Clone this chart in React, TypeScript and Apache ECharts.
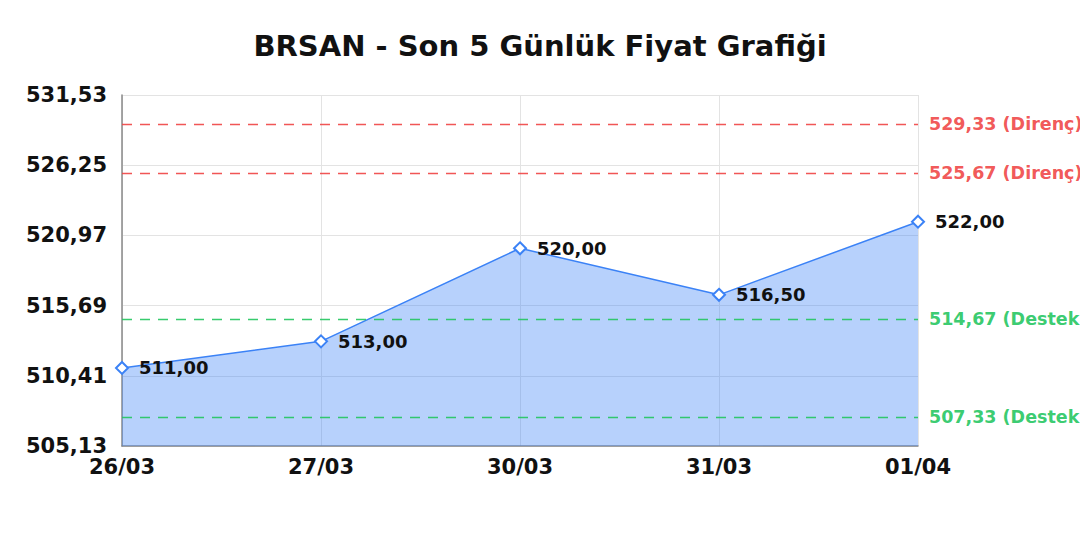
import { useEffect, useRef } from "react";
import * as echarts from "echarts";

// Son 5 günlük kapanış fiyatları
const DATES = ["26/03", "27/03", "30/03", "31/03", "01/04"];
const PRICES = [511.0, 513.0, 520.0, 516.5, 522.0];
const Y_TICKS = [505.13, 510.41, 515.69, 520.97, 526.25, 531.53];
const RESISTANCE = [529.33, 525.67];
const SUPPORT = [514.67, 507.33];

const BLUE = "#3b82f6";
const RED = "#ef4444";
const GREEN = "#22c55e";
const FONT = "DejaVu Sans";

const fmt = (v: number) => v.toFixed(2).replace(".", ",");

// One empty helper series per dashed support / resistance line
// (per-item markLine colours were not applied reliably).
function levelSeries(value: number, color: string, tag: string) {
  return {
    type: "line",
    data: [],
    silent: true,
    markLine: {
      silent: true,
      symbol: "none",
      lineStyle: { color, type: [10, 8], width: 1.3, opacity: 0.9 },
      label: {
        position: "end",
        distance: 11,
        color,
        fontFamily: FONT,
        fontWeight: "bold",
        fontSize: 17.5,
        formatter: `${fmt(value)} (${tag})`,
      },
      data: [{ yAxis: value }],
    },
  };
}

export default function App() {
  const boxRef = useRef<HTMLDivElement>(null);

  useEffect(() => {
    if (!boxRef.current) return;
    const chart = echarts.init(boxRef.current, undefined, { renderer: "svg" });
    chart.setOption({
      animation: false,
      backgroundColor: "#fff",
      textStyle: { fontFamily: FONT },
      title: {
        text: "BRSAN - Son 5 Günlük Fiyat Grafiği",
        left: "center",
        top: 26,
        textStyle: { fontFamily: FONT, fontWeight: "bold", fontSize: 29, color: "#111" },
      },
      grid: { left: 122, right: 162, top: 95, bottom: 94 },
      xAxis: {
        type: "category",
        data: DATES,
        boundaryGap: false,
        axisLine: { lineStyle: { color: "#888", width: 1.5 } },
        axisTick: { show: false },
        axisLabel: { color: "#111", fontFamily: FONT, fontWeight: "bold", fontSize: 21, margin: 10 },
        splitLine: { show: true, lineStyle: { color: "#e3e3e3", width: 1 } },
      },
      yAxis: {
        type: "value",
        min: Y_TICKS[0],
        max: Y_TICKS[Y_TICKS.length - 1],
        axisLine: { show: true, lineStyle: { color: "#888", width: 1.5 } },
        axisTick: { show: false, customValues: Y_TICKS },
        axisLabel: {
          customValues: Y_TICKS,
          color: "#111",
          fontFamily: FONT,
          fontWeight: "bold",
          fontSize: 21,
          margin: 15,
          formatter: (v: number) => fmt(v),
        },
        splitLine: { show: true, lineStyle: { color: "#e3e3e3", width: 1 } },
      },
      series: [
        {
          type: "line",
          data: PRICES,
          symbol: "emptyDiamond",
          symbolSize: 12,
          z: 3,
          lineStyle: { color: BLUE, width: 1.5 },
          itemStyle: { color: BLUE, borderWidth: 2 },
          areaStyle: { color: BLUE, opacity: 0.37 },
          label: {
            show: true,
            position: "right",
            distance: 10,
            color: "#111",
            fontFamily: FONT,
            fontWeight: "bold",
            fontSize: 18,
            formatter: (p: any) => fmt(p.value),
          },
        },
        ...RESISTANCE.map((v) => levelSeries(v, RED, "Direnç")),
        ...SUPPORT.map((v) => levelSeries(v, GREEN, "Destek")),
      ],
    });
    return () => chart.dispose();
  }, []);

  return (
    <div
      ref={boxRef}
      style={{ position: "absolute", left: 0, top: 0, width: 1080, height: 540 }}
    />
  );
}
